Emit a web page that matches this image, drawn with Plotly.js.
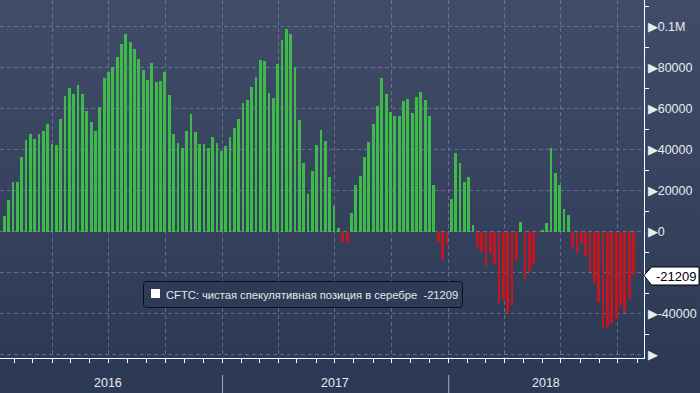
<!DOCTYPE html>
<html>
<head>
<meta charset="utf-8">
<script src="https://cdn.plot.ly/plotly-3.0.1.min.js"></script>
<style>
  html, body { margin: 0; padding: 0; overflow: hidden; background: #2b3954; }
  #chart { width: 700px; height: 393px;
    background: linear-gradient(to bottom, #414c69 0%, #37435f 45%, #2e3b57 88%, #2b3954 100%); }
</style>
</head>
<body>
<div id="chart"></div>
<script>
// ---- data (weekly CFTC net speculative position in silver, contracts) ----
const firstWeek = '2016-01-15';
const netPosition = [
  7640, 15450, 24230, 24230, 36590, 44700, 47640, 45200, 47640, 49100,
  52520, 42760, 42280, 54960, 66180, 70080, 67150, 71540, 67150, 59020,
  53500, 49100, 60810, 74960, 77890, 80320, 85200, 91540, 96420, 92520,
  89100, 84230, 78860, 73980, 82280, 73000, 73500, 77890, 66670, 47640,
  43250, 40810, 49100, 57400, 48620, 42760, 42760, 40810, 46180, 43250,
  39350, 41790, 46180, 50570, 54960, 62760, 64230, 70570, 75450, 83740,
  83250, 67640, 65200, 81790, 93500, 98860, 96420, 80320, 54470, 33500,
  18370, 29590, 42280, 49590, 44230, 26670, 12520, 1790, -5200, -5600,
  9100, 22760, 27150, 36420, 43740, 52520, 61300, 74960, 67150, 58370,
  56420, 56420, 63740, 64710, 57890, 65690, 68130, 64230, 56420, 22540,
  -5230, -13390, -6530, 16000, 38200, 33300, 24170, 26450, 3430, -7670,
  -10120, -16490, -10450, -15840, -34950, -33480, -39520, -36090, -14040, 4740,
  -22860, -18940, -15840, -800, 820, 4400, 40660, 28400, 22540, 10940,
  8330, -7670, -11100, -6040, -12080, -19760, -25150, -34460, -47360, -46380,
  -44740, -42620, -35930, -39850, -32990, -21209
];
const seriesName = 'CFTC: чистая спекулятивная позиция в серебре';
const lastValue = -21209;
const yTickVals = [100000, 80000, 60000, 40000, 20000, 0, -20000, -40000, -60000];
const yTickText = ['▶0.1M', '▶80000', '▶60000', '▶40000', '▶20000', '▶0', '', '▶-40000', '▶'];
const yearLabels = ['2016', '2017', '2018'];
const yearDividers = ['2017-01-01', '2018-01-01'];

// ---- build weekly dates ----
const dates = [];
const d0 = new Date(firstWeek + 'T00:00:00Z');
for (let i = 0; i < netPosition.length; i++) {
  const d = new Date(d0.getTime() + i * 7 * 86400000);
  dates.push(d.toISOString().slice(0, 10));
}
const colors = netPosition.map(v => v >= 0 ? '#3dba4a' : '#c5161f');

// pixel -> paper helpers (plot area 0..644 x, 0..358 y)
const PW = 644, PH = 358;
const px = x => x / PW;
const py = y => (PH - y) / PH;

const gridColor = 'rgba(125,142,172,0.6)';

const trace = {
  type: 'bar',
  x: dates,
  y: netPosition,
  width: 4.5 * 86400000,
  marker: { color: colors, line: { width: 0 } },
  hoverinfo: 'skip',
  showlegend: false
};

// legend box path with rounded corners
function roundRect(x0, y0, x1, y1, r) {
  const rx = r / PW, ry = r / PH;
  const X0 = px(x0), X1 = px(x1), Y0 = py(y0), Y1 = py(y1);
  return `M ${X0 + rx},${Y0} L ${X1 - rx},${Y0} Q ${X1},${Y0} ${X1},${Y0 - ry} ` +
         `L ${X1},${Y1 + ry} Q ${X1},${Y1} ${X1 - rx},${Y1} L ${X0 + rx},${Y1} ` +
         `Q ${X0},${Y1} ${X0},${Y1 + ry} L ${X0},${Y0 - ry} Q ${X0},${Y0} ${X0 + rx},${Y0} Z`;
}

const shapes = [
  // legend box
  { type: 'path', xref: 'paper', yref: 'paper', path: roundRect(143.5, 281.5, 462.5, 307.5, 3),
    fillcolor: '#2e3b57', line: { color: '#0c0f16', width: 1 } },
  // legend swatch
  { type: 'rect', xref: 'paper', yref: 'paper', x0: px(151), x1: px(160), y0: py(289), y1: py(298),
    fillcolor: '#ffffff', line: { width: 0 } },
  // last value tag
  { type: 'path', xref: 'paper', yref: 'paper',
    path: `M ${px(644)},${py(275.5)} L ${px(651.5)},${py(267)} L ${px(699)},${py(267)} L ${px(699)},${py(285)} L ${px(651.5)},${py(285)} Z`,
    fillcolor: '#ffffff', line: { color: '#000000', width: 1 } }
];
yearDividers.forEach(dv => shapes.push({
  type: 'line', xref: 'x', yref: 'paper', x0: dv, x1: dv, y0: py(375), y1: py(393),
  line: { color: '#a3abbd', width: 1 }
}));

const yearCenters = [108, 335, 546];
const annotations = yearLabels.map((t, i) => ({
  text: t, xref: 'paper', yref: 'paper', x: px(yearCenters[i]), y: py(383),
  xanchor: 'center', yanchor: 'middle', showarrow: false,
  font: { family: 'Liberation Sans, Arial, sans-serif', size: 12.5, color: '#e8ebf0' }
}));
annotations.push({
  text: seriesName + '\u00a0\u00a0' + lastValue, xref: 'paper', yref: 'paper',
  x: px(164), y: py(294.5), xanchor: 'left', yanchor: 'middle', showarrow: false,
  font: { family: 'Liberation Sans, Arial, sans-serif', size: 11.2, color: '#e4e7ec' }
});
annotations.push({
  text: String(lastValue), xref: 'paper', yref: 'paper',
  x: px(676), y: py(276), xanchor: 'center', yanchor: 'middle', showarrow: false,
  font: { family: 'Liberation Sans, Arial, sans-serif', size: 13, color: '#000000' }
});

const layout = {
  width: 700, height: 393,
  margin: { l: 0, r: 56, t: 0, b: 35, pad: 0 },
  paper_bgcolor: 'rgba(0,0,0,0)',
  plot_bgcolor: 'rgba(0,0,0,0)',
  bargap: 0,
  font: { family: 'Liberation Sans, Arial, sans-serif', color: '#e8ebf0' },
  xaxis: {
    type: 'date',
    range: ['2016-01-08', '2018-11-12'],
    tick0: '2016-01-01', dtick: 'M3',
    showticklabels: false,
    ticks: 'outside', ticklen: 4, tickcolor: '#ffffff', tickwidth: 1,
    showgrid: true, gridcolor: gridColor, griddash: '4px,3px', gridwidth: 1,
    minor: { dtick: 'M1', tick0: '2016-01-01', ticks: 'outside', ticklen: 4, tickcolor: '#ffffff', showgrid: false },
    showline: true, linecolor: '#ffffff', linewidth: 1,
    zeroline: false, fixedrange: true
  },
  yaxis: {
    side: 'right',
    range: [-61600, 113000],
    tickmode: 'array', tickvals: yTickVals, ticktext: yTickText,
    ticks: '', ticklabelstandoff: 0,
    tickfont: { family: 'Liberation Sans, Arial, sans-serif', size: 12.5, color: '#e8ebf0' },
    showgrid: true, gridcolor: gridColor, griddash: '4px,3px', gridwidth: 1,
    minor: { tickmode: 'array', tickvals: [110000, 90000, 70000, 50000, 30000, 10000, -10000, -30000, -50000],
             ticks: 'outside', ticklen: 4, tickcolor: '#ffffff', showgrid: false },
    showline: true, linecolor: '#ffffff', linewidth: 1.2,
    zeroline: false, fixedrange: true
  },
  shapes: shapes,
  annotations: annotations
};

Plotly.newPlot('chart', [trace], layout, { staticPlot: true, displayModeBar: false });
</script>
</body>
</html>
